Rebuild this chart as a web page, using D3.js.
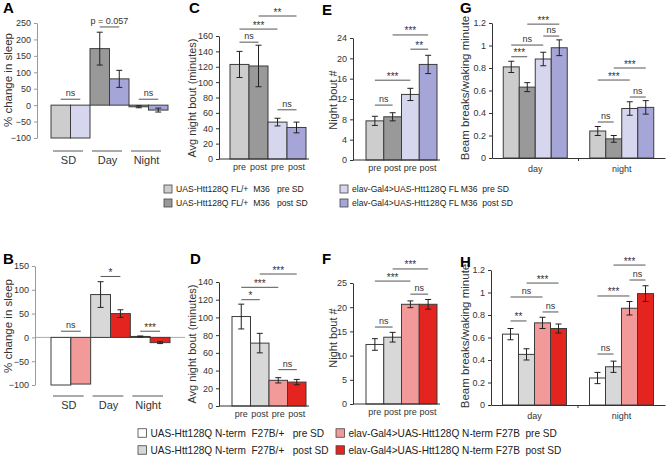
<!DOCTYPE html>
<html>
<head>
<meta charset="utf-8">
<script src="https://cdn.jsdelivr.net/npm/d3@7"></script>
<style>
body { margin: 0; background: #fff; }
</style>
</head>
<body>
<div id="chart"></div>
<script>
// datos
const sdGroups = ["SD", "Day", "Night"]
const aValues = [[-100, -100], [172, 80], [-5, -15]]
const aErrors = [[0, 0], [50, 26], [3, 6]]
const bValues = [[-100, -98], [90, 50], [2, -11]]
const bErrors = [[0, 0], [27, 8], [1, 2]]

const prePost = ["pre", "post", "pre", "post"]
const cValues = [123, 121, 48, 41]
const cErrors = [17, 27, 5, 7]
const dValues = [101, 71, 29, 27]
const dErrors = [14, 11, 3, 3]
const eValues = [7.7, 8.5, 12.9, 18.8]
const eErrors = [0.9, 0.8, 1.2, 1.8]
const fValues = [12.3, 13.8, 20.6, 20.6]
const fErrors = [1.2, 1.0, 0.7, 1.0]

const dayNight = ["day", "night"]
const gValues = [[0.81, 0.63, 0.88, 0.98], [0.24, 0.17, 0.44, 0.45]]
const gErrors = [[0.05, 0.04, 0.06, 0.07], [0.04, 0.03, 0.06, 0.06]]
const hValues = [[0.63, 0.45, 0.73, 0.68], [0.24, 0.34, 0.86, 0.99]]
const hErrors = [[0.05, 0.05, 0.05, 0.04], [0.05, 0.05, 0.06, 0.07]]

// ticks
const aTicks = [-100, -50, 0, 50, 100, 150, 200, 250]
const bTicks = [-100, -50, 0, 50, 100, 150]
const cTicks = [0, 20, 40, 60, 80, 100, 120, 140, 160]
const dTicks = [0, 20, 40, 60, 80, 100, 120, 140]
const eTicks = [0, 4, 8, 12, 16, 20, 24]
const fTicks = [0, 5, 10, 15, 20, 25]
const ghTicks = [0, 0.2, 0.4, 0.6, 0.8, 1, 1.2]

// significancia: [barra desde, barra hasta, nivel, etiqueta]
const aSig = [[0, 1, 18, "ns"], [2, 3, 238, "p = 0.057"], [4, 5, 18, "ns"]]
const bSig = [[0, 1, 13, "ns"], [2, 3, 128, "*"], [4, 5, 13, "***"]]
const cSig = [[0, 1, 152, "ns"], [0, 2, 169, "***"], [1, 3, 186, "**"], [2, 3, 64, "ns"]]
const dSig = [[0, 1, 120, "*"], [0, 2, 134, "***"], [1, 3, 149, "***"], [2, 3, 41, "ns"]]
const eSig = [[0, 1, 10.8, "ns"], [0, 2, 15.7, "***"], [2, 3, 21.8, "**"], [1, 3, 24.6, "***"]]
const fSig = [[0, 1, 15.9, "ns"], [0, 2, 25.4, "***"], [1, 3, 27.9, "***"], [2, 3, 22.7, "ns"]]
const gSig = [[0, 1, 0.9, "***"], [0, 2, 1.004, "ns"], [2, 3, 1.084, "ns"], [1, 3, 1.19, "***"],
              [4, 5, 0.32, "ns"], [6, 7, 0.542, "ns"], [4, 6, 0.693, "***"], [5, 7, 0.8, "***"]]
const hSig = [[0, 1, 0.747, "**"], [0, 2, 0.96, "ns"], [2, 3, 0.827, "ns"], [1, 3, 1.084, "***"],
              [4, 5, 0.453, "ns"], [4, 6, 0.969, "***"], [6, 7, 1.111, "ns"], [5, 7, 1.244, "***"]]

// leyendas
const topLegend = ["UAS-Htt128Q FL/+  M36   pre SD", "UAS-Htt128Q FL/+  M36   post SD",
                   "elav-Gal4>UAS-Htt128Q FL M36  pre SD", "elav-Gal4>UAS-Htt128Q FL M36  post SD"]
const bottomLegend = ["UAS-Htt128Q N-term  F27B/+   pre SD", "UAS-Htt128Q N-term  F27B/+   post SD",
                      "elav-Gal4>UAS-Htt128Q N-term F27B  pre SD", "elav-Gal4>UAS-Htt128Q N-term F27B  post SD"]

const topColors = ["#cdcdcd", "#999999", "#d6d6ee", "#a5a5d8"]
const bottomColors = ["#ffffff", "#d8d8d8", "#f29a9a", "#e4251f"]

const FONT = "'Liberation Sans', Arial, sans-serif"
const width = 667
const height = 457

const svg = d3.select("div#chart").append("svg")
    .attr("width", width).attr("height", height)
    .attr("font-family", FONT)

// utilidades
function yAxis(g, y, ticks, x, color) {
    const ag = g.append("g").attr("transform", `translate(${x},0)`)
        .call(d3.axisLeft(y).tickValues(ticks).tickSize(3).tickSizeOuter(0).tickPadding(3).tickFormat(d3.format("~g")))
        .attr("font-family", FONT)
    ag.select(".domain").attr("stroke", color)
    ag.selectAll(".tick line").attr("stroke", color)
    ag.selectAll(".tick text").attr("font-size", 9).attr("fill", "#333")
}

function yLabel(g, text, x, cy, size) {
    g.append("text").attr("transform", `translate(${x},${cy}) rotate(-90)`)
        .attr("text-anchor", "middle").attr("font-size", size || 11).attr("fill", "#333").text(text)
}

function letter(t, x, y) {
    svg.append("text").attr("x", x).attr("y", y).attr("font-size", 15).attr("font-weight", "bold").text(t)
}

function drawBars(g, bars, y) {
    g.selectAll("rect.bar").data(bars).join("rect").attr("class", "bar")
        .attr("x", d => d.x).attr("width", d => d.w)
        .attr("y", d => y(Math.max(0, d.v)))
        .attr("height", d => Math.abs(y(d.v) - y(0)))
        .attr("fill", d => d.c).attr("stroke", "#3c3c3c").attr("stroke-width", 1)
    const eb = bars.filter(d => d.e > 0)
    g.selectAll("line.err").data(eb).join("line").attr("class", "err")
        .attr("x1", d => d.x + d.w / 2).attr("x2", d => d.x + d.w / 2)
        .attr("y1", d => y(d.v - d.e)).attr("y2", d => y(d.v + d.e))
        .attr("stroke", "#222")
    g.selectAll("line.capTop").data(eb).join("line").attr("class", "capTop")
        .attr("x1", d => d.x + d.w / 2 - 3).attr("x2", d => d.x + d.w / 2 + 3)
        .attr("y1", d => y(d.v + d.e)).attr("y2", d => y(d.v + d.e)).attr("stroke", "#222")
    g.selectAll("line.capBot").data(eb).join("line").attr("class", "capBot")
        .attr("x1", d => d.x + d.w / 2 - 3).attr("x2", d => d.x + d.w / 2 + 3)
        .attr("y1", d => y(d.v - d.e)).attr("y2", d => y(d.v - d.e)).attr("stroke", "#222")
}

function sigMarks(g, sig, bars, y) {
    sig.forEach(s => {
        const x1 = bars[s[0]].x + bars[s[0]].w / 2
        const x2 = bars[s[1]].x + bars[s[1]].w / 2
        const yy = y(s[2])
        g.append("line").attr("x1", x1).attr("x2", x2).attr("y1", yy).attr("y2", yy)
            .attr("stroke", "#555").attr("stroke-width", 1)
        g.append("text").attr("x", (x1 + x2) / 2).attr("y", s[3].startsWith("*") ? yy - 0.5 : yy - 3)
            .attr("text-anchor", "middle").attr("font-size", s[3].startsWith("*") ? 10 : 9)
            .attr("fill", "#333").text(s[3])
    })
}

// paneles A y B: cambio de sueño
function sleepPanel(opts) {
    const g = svg.append("g")
    const y = d3.scaleLinear().domain(opts.domain).range(opts.yRange)
    const xg = d3.scaleBand().domain(sdGroups).range(opts.barRange)
    const xi = d3.scaleBand().domain([0, 1]).range([0, xg.bandwidth()])
    const bars = []
    sdGroups.forEach((grp, i) => {
        opts.values[i].forEach((v, j) => {
            const c = i === 0 ? opts.colors[j * 2] : opts.colors[j * 2 + 1]
            bars.push({x: xg(grp) + xi(j), w: xi.bandwidth(), v: v, e: opts.errors[i][j], c: c})
        })
    })
    if (opts.zeroTo) {
        g.append("line").attr("x1", opts.axisX).attr("x2", opts.zeroTo)
            .attr("y1", y(0)).attr("y2", y(0)).attr("stroke", "#aaa")
    }
    drawBars(g, bars, y)
    yAxis(g, y, opts.ticks, opts.axisX, "#999")
    sigMarks(g, opts.sig, bars, y)
    sdGroups.forEach(grp => {
        g.append("line").attr("x1", xg(grp) + 2).attr("x2", xg(grp) + xg.bandwidth() - 7)
            .attr("y1", opts.catY).attr("y2", opts.catY).attr("stroke", "#555")
        g.append("text").attr("x", xg(grp) + xg.bandwidth() / 2 - 2).attr("y", opts.catY + 13)
            .attr("text-anchor", "middle").attr("font-size", 11).attr("fill", "#333").text(grp)
    })
    yLabel(g, "% change in sleep", 12, opts.labelY, 11.5)
}

// paneles C-F: cuatro barras pre/post
function prePostPanel(opts) {
    const g = svg.append("g")
    const y = d3.scaleLinear().domain(opts.domain).range(opts.yRange)
    const x = d3.scaleBand().domain(d3.range(4)).range(opts.barRange)
    const bars = opts.values.map((v, i) => ({x: x(i), w: x.bandwidth(), v: v, e: opts.errors[i], c: opts.colors[i]}))
    drawBars(g, bars, y)
    g.append("line").attr("x1", opts.axisX).attr("x2", opts.barRange[1] + 3)
        .attr("y1", y(0)).attr("y2", y(0)).attr("stroke", "#333")
    yAxis(g, y, opts.ticks, opts.axisX, "#333")
    sigMarks(g, opts.sig, bars, y)
    prePost.forEach((t, i) => {
        g.append("text").attr("x", x(i) + x.bandwidth() / 2).attr("y", y(0) + 11)
            .attr("text-anchor", "middle").attr("font-size", 9).attr("fill", "#333").text(t)
    })
    yLabel(g, opts.label, opts.labelX, opts.labelY, 11)
}

// paneles G y H: actividad día/noche
function activityPanel(opts) {
    const g = svg.append("g")
    const y = d3.scaleLinear().domain([0, 1.2]).range(opts.yRange)
    const xc = d3.scaleBand().domain(dayNight).range([opts.axisX, opts.endX])
    const inner = 64
    const xi = d3.scaleBand().domain(d3.range(4)).range([0, inner])
    const bars = []
    dayNight.forEach((c, i) => {
        opts.values[i].forEach((v, j) => {
            bars.push({x: xc(c) + (xc.bandwidth() - inner) / 2 + xi(j), w: xi.bandwidth(), v: v, e: opts.errors[i][j], c: opts.colors[j]})
        })
    })
    drawBars(g, bars, y)
    const xa = g.append("g").attr("transform", `translate(0,${y(0)})`)
        .call(d3.axisBottom(xc).tickSize(0).tickPadding(8))
        .attr("font-family", FONT)
    xa.select(".domain").attr("stroke", "#333")
    xa.selectAll(".tick text").attr("font-size", 9).attr("fill", "#333")
    xa.append("line").attr("x1", xc("night")).attr("x2", xc("night")).attr("y1", 0).attr("y2", 3).attr("stroke", "#333")
    yAxis(g, y, ghTicks, opts.axisX, "#333")
    sigMarks(g, opts.sig, bars, y)
    yLabel(g, "Beam breaks/waking minute", opts.labelX, opts.labelY, 11.5)
}

function legend(labels, colors, cols, rows, size, font) {
    labels.forEach((t, i) => {
        const cx = cols[Math.floor(i / 2)]
        const cy = rows[i % 2]
        svg.append("rect").attr("x", cx).attr("y", cy - size / 2).attr("width", size).attr("height", size)
            .attr("fill", colors[i]).attr("stroke", "#444").attr("stroke-width", 0.8)
        svg.append("text").attr("x", cx + size + 4).attr("y", cy + font * 0.36)
            .attr("font-size", font).attr("fill", "#222").style("white-space", "pre").text(t)
    })
}

// fila superior
sleepPanel({values: aValues, errors: aErrors, domain: [-100, 250], yRange: [138, 23], ticks: aTicks,
    axisX: 37, barRange: [51, 168], sig: aSig, colors: topColors, catY: 151, labelY: 80})
prePostPanel({values: cValues, errors: cErrors, domain: [0, 160], yRange: [159, 36], ticks: cTicks,
    axisX: 219, barRange: [230, 306], sig: cSig, colors: topColors, label: "Avg night bout (minutes)", labelX: 196, labelY: 98})
prePostPanel({values: eValues, errors: eErrors, domain: [0, 24], yRange: [160, 38], ticks: eTicks,
    axisX: 353, barRange: [366, 437], sig: eSig, colors: topColors, label: "Night bout #", labelX: 337, labelY: 100})
activityPanel({values: gValues, errors: gErrors, yRange: [158, 23], axisX: 492, endX: 665,
    sig: gSig, colors: topColors, labelX: 469, labelY: 88})

// fila inferior
sleepPanel({values: bValues, errors: bErrors, domain: [-100, 150], yRange: [385, 266], ticks: bTicks,
    axisX: 35, barRange: [51, 170], sig: bSig, colors: bottomColors, catY: 396, labelY: 326, zeroTo: 185})
prePostPanel({values: dValues, errors: dErrors, domain: [0, 140], yRange: [406, 282], ticks: dTicks,
    axisX: 219, barRange: [232, 306], sig: dSig, colors: bottomColors, label: "Avg night bout (minutes)", labelX: 196, labelY: 344})
prePostPanel({values: fValues, errors: fErrors, domain: [0, 25], yRange: [404, 283], ticks: fTicks,
    axisX: 353, barRange: [366, 437], sig: fSig, colors: bottomColors, label: "Night bout #", labelX: 337, labelY: 338})
activityPanel({values: hValues, errors: hErrors, yRange: [405, 270], axisX: 491, endX: 665,
    sig: hSig, colors: bottomColors, labelX: 469, labelY: 336})

letter("A", 3, 13); letter("C", 189, 13); letter("E", 322, 15); letter("G", 460, 13)
letter("B", 3, 264); letter("D", 190, 264); letter("F", 322, 264); letter("H", 460, 267)

legend(topLegend, topColors, [164, 340], [189, 203], 8, 8.6)
legend(bottomLegend, bottomColors, [138, 336], [433, 450], 8.5, 10.1)
</script>
</body>
</html>
